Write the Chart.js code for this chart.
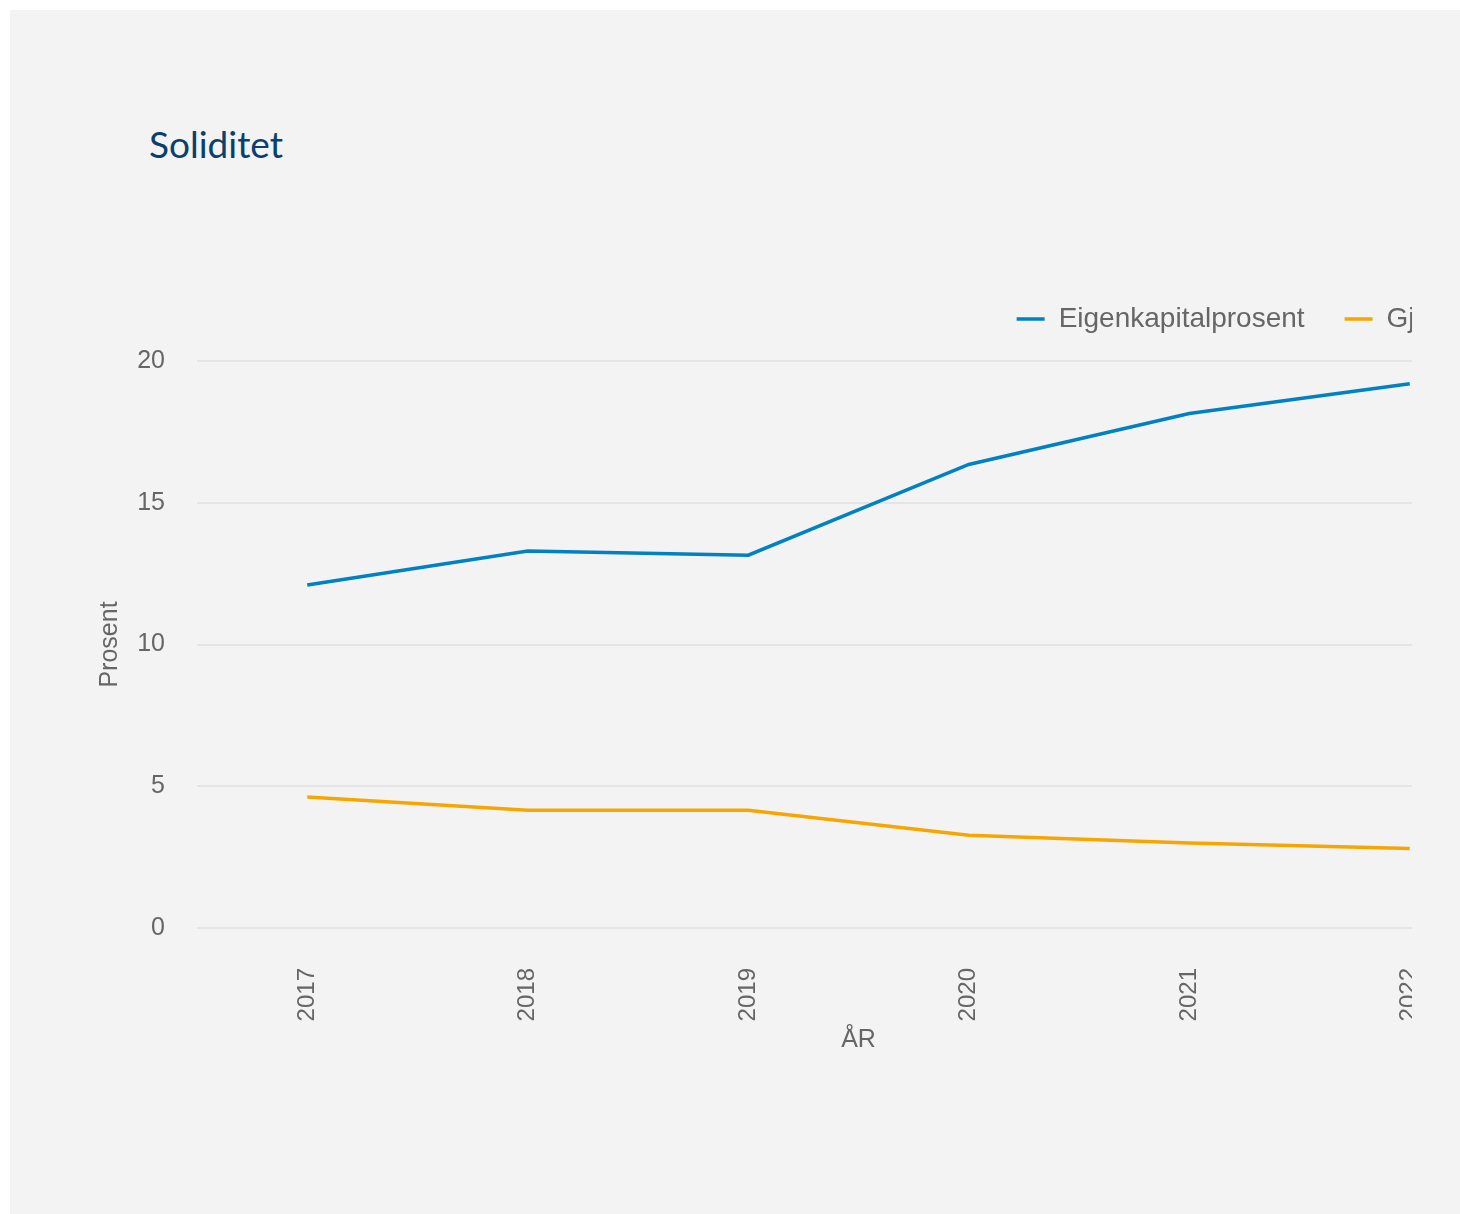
<!DOCTYPE html>
<html>
<head>
<meta charset="utf-8">
<script src="https://cdn.jsdelivr.net/npm/chart.js@4"></script>
<style>
  html, body { margin: 0; padding: 0; background: #ffffff; }
  #panel { position: absolute; left: 10px; top: 10px; width: 1450px; height: 1204px; background: #f3f3f3; }
  #title { position: absolute; left: 149px; top: 119px; margin: 0; font-family: Lato, 'Noto Sans', sans-serif; font-weight: 400; font-size: 37px; line-height: 50px; color: #0b3f6e; }
  #wrap { position: absolute; left: 10px; top: 250px; width: 1402px; height: 818px; overflow: hidden; }
  #c { position: absolute; left: 0; top: 0; }
</style>
</head>
<body>
<div id="panel"></div>
<div id="title">Soliditet</div>
<div id="wrap"><canvas id="c" width="1552" height="818" style="width:1552px;height:818px"></canvas></div>
<script>
const years = ['2017', '2018', '2019', '2020', '2021', '2022'];
const eigenkapitalprosent = [12.1, 13.3, 13.15, 16.35, 18.15, 19.2];
const gjeldsgrad = [4.62, 4.15, 4.15, 3.27, 3.0, 2.8];
const yTicks = [0, 5, 10, 15, 20];
const seriesLabels = ['Eigenkapitalprosent', 'Gjeldsgrad'];
const axisTitles = { x: 'ÅR', y: 'Prosent' };

Chart.defaults.font.family = "'Liberation Sans', Arial, sans-serif";
Chart.defaults.color = '#666666';

new Chart(document.getElementById('c'), {
  type: 'line',
  data: {
    labels: years,
    datasets: [
      { label: seriesLabels[0], data: eigenkapitalprosent, borderColor: '#0081c2', backgroundColor: '#0081c2', borderWidth: 3.5, pointRadius: 0, tension: 0 },
      { label: seriesLabels[1], data: gjeldsgrad, borderColor: '#f7a600', backgroundColor: '#f7a600', borderWidth: 3.5, pointRadius: 0, tension: 0 }
    ]
  },
  options: {
    responsive: false,
    animation: false,
    devicePixelRatio: 1,
    layout: { padding: { top: 15, left: 0, right: 0, bottom: 0 } },
    plugins: {
      legend: {
        position: 'top',
        align: 'end',
        labels: { usePointStyle: true, pointStyle: 'line', pointStyleWidth: 28, boxWidth: 28, padding: 40, font: { size: 28 }, color: '#666666' }
      },
      tooltip: { enabled: false }
    },
    scales: {
      x: {
        type: 'category',
        position: 'bottom',
        offset: true,
        grid: { display: false, drawTicks: false },
        border: { display: false },
        ticks: { minRotation: 90, maxRotation: 90, padding: 40, font: { size: 24 }, color: '#666666' },
        title: { display: true, text: axisTitles.x, font: { size: 25 }, color: '#666666', padding: { top: 4, bottom: 13 } },
        afterFit: (s) => { s.height = 140; }
      },
      xTop: {
        type: 'category',
        position: 'top',
        display: true,
        grid: { display: false, drawTicks: false },
        border: { display: false },
        ticks: { display: false },
        afterFit: (s) => { s.height = 18; }
      },
      y: {
        type: 'linear',
        position: 'left',
        min: yTicks[0],
        max: yTicks[yTicks.length - 1],
        afterBuildTicks: (s) => { s.ticks = yTicks.map(v => ({ value: v })); },
        grid: { color: '#e5e5e5', lineWidth: 2, drawTicks: false },
        border: { display: false },
        ticks: { padding: 32, font: { size: 25 }, color: '#666666' },
        title: { display: true, text: axisTitles.y, font: { size: 25 }, color: '#666666', padding: { top: 85, bottom: 0 } },
        afterFit: (s) => { s.width = 187; }
      },
      yRight: {
        type: 'linear',
        position: 'right',
        display: true,
        grid: { display: false, drawTicks: false },
        border: { display: false },
        ticks: { display: false },
        afterFit: (s) => { s.width = 42; }
      }
    }
  }
});
</script>
</body>
</html>
